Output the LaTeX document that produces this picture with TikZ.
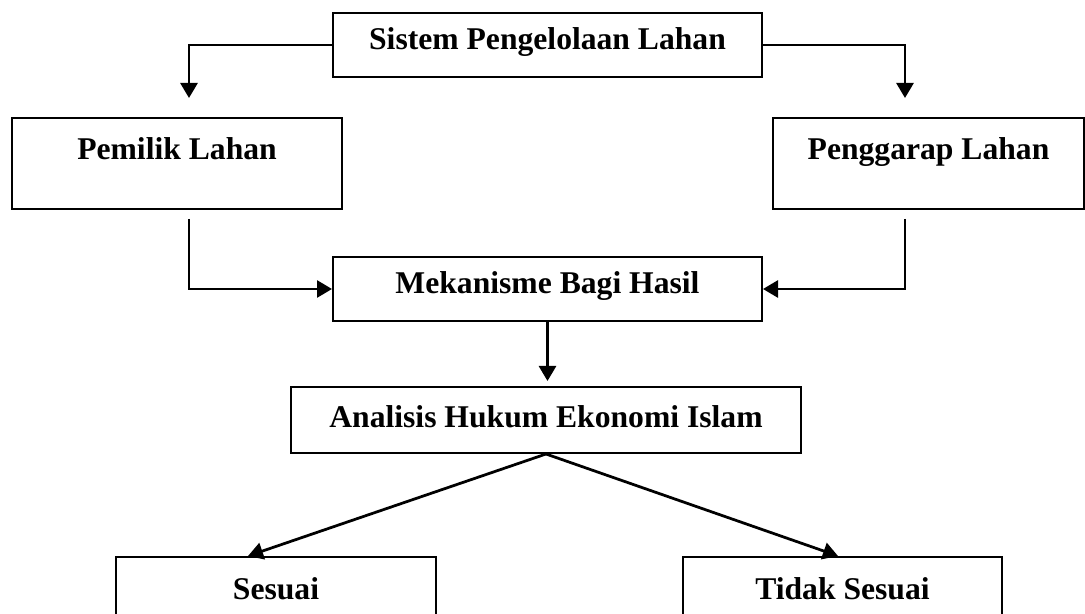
\documentclass[tikz,border=0pt]{standalone}
\usepackage{fontspec}
\setmainfont{Liberation Serif}
\usepackage{tikz}
\usetikzlibrary{arrows.meta}
\tikzstyle{rectblock} = [rectangle, draw, line width=0.04cm, align=center, inner sep=0pt, text height=0.5cm, font=\fontsize{18}{22}\selectfont\bfseries]
\tikzstyle{block} = [rectblock, minimum width=8.58cm, minimum height=1.28cm]
\tikzstyle{tallblock} = [rectblock, minimum height=1.82cm, text depth=0.64cm]
\tikzstyle{arrow} = [draw, line width=0.055cm, -{Triangle[length=0.3cm, width=0.34cm]}]

\begin{document}
\begin{tikzpicture}
    \useasboundingbox (0, 0) rectangle (21.7, 12.26);
    \clip (0, 0) rectangle (21.7, 12.26);
    % top
    \node[block, text depth=0.3cm] at (10.95, 11.36) (sistem) {Sistem Pengelolaan Lahan};
    % owner / tenant
    \node[tallblock, minimum width=6.6cm] at (3.54, 8.99) (pemilik) {Pemilik Lahan};
    \node[tallblock, minimum width=6.22cm] at (18.57, 8.99) (penggarap) {Penggarap Lahan};
    \path[arrow] (sistem.west) -| ([xshift=0.24cm, yshift=0.38cm]pemilik.north);
    \path[arrow] (sistem.east) -| ([xshift=-0.47cm, yshift=0.38cm]penggarap.north);
    % profit sharing
    \node[block, text depth=0.34cm] at (10.95, 6.48) (mekanisme) {Mekanisme Bagi Hasil};
    \path[arrow] ([xshift=0.24cm, yshift=-0.18cm]pemilik.south) |- (mekanisme.west);
    \path[arrow] ([xshift=-0.47cm, yshift=-0.18cm]penggarap.south) |- (mekanisme.east);
    % analysis
    \node[block, minimum width=10.2cm, minimum height=1.32cm, text depth=0.22cm] at (10.92, 3.86) (analisis) {Analisis Hukum Ekonomi Islam};
    \path[arrow, shorten >=0.1cm] (mekanisme.south) to (mekanisme.south |- analisis.north);
    % result
    \node[tallblock, minimum width=6.4cm] at (5.52, 0.21) (sesuai) {Sesuai};
    \node[tallblock, minimum width=6.38cm] at (16.85, 0.21) (tidak) {Tidak Sesuai};
    \path[arrow] (analisis.south) to ([xshift=-0.56cm]sesuai.north);
    \path[arrow] (analisis.south) to ([xshift=-0.09cm]tidak.north);
\end{tikzpicture}
\end{document}
